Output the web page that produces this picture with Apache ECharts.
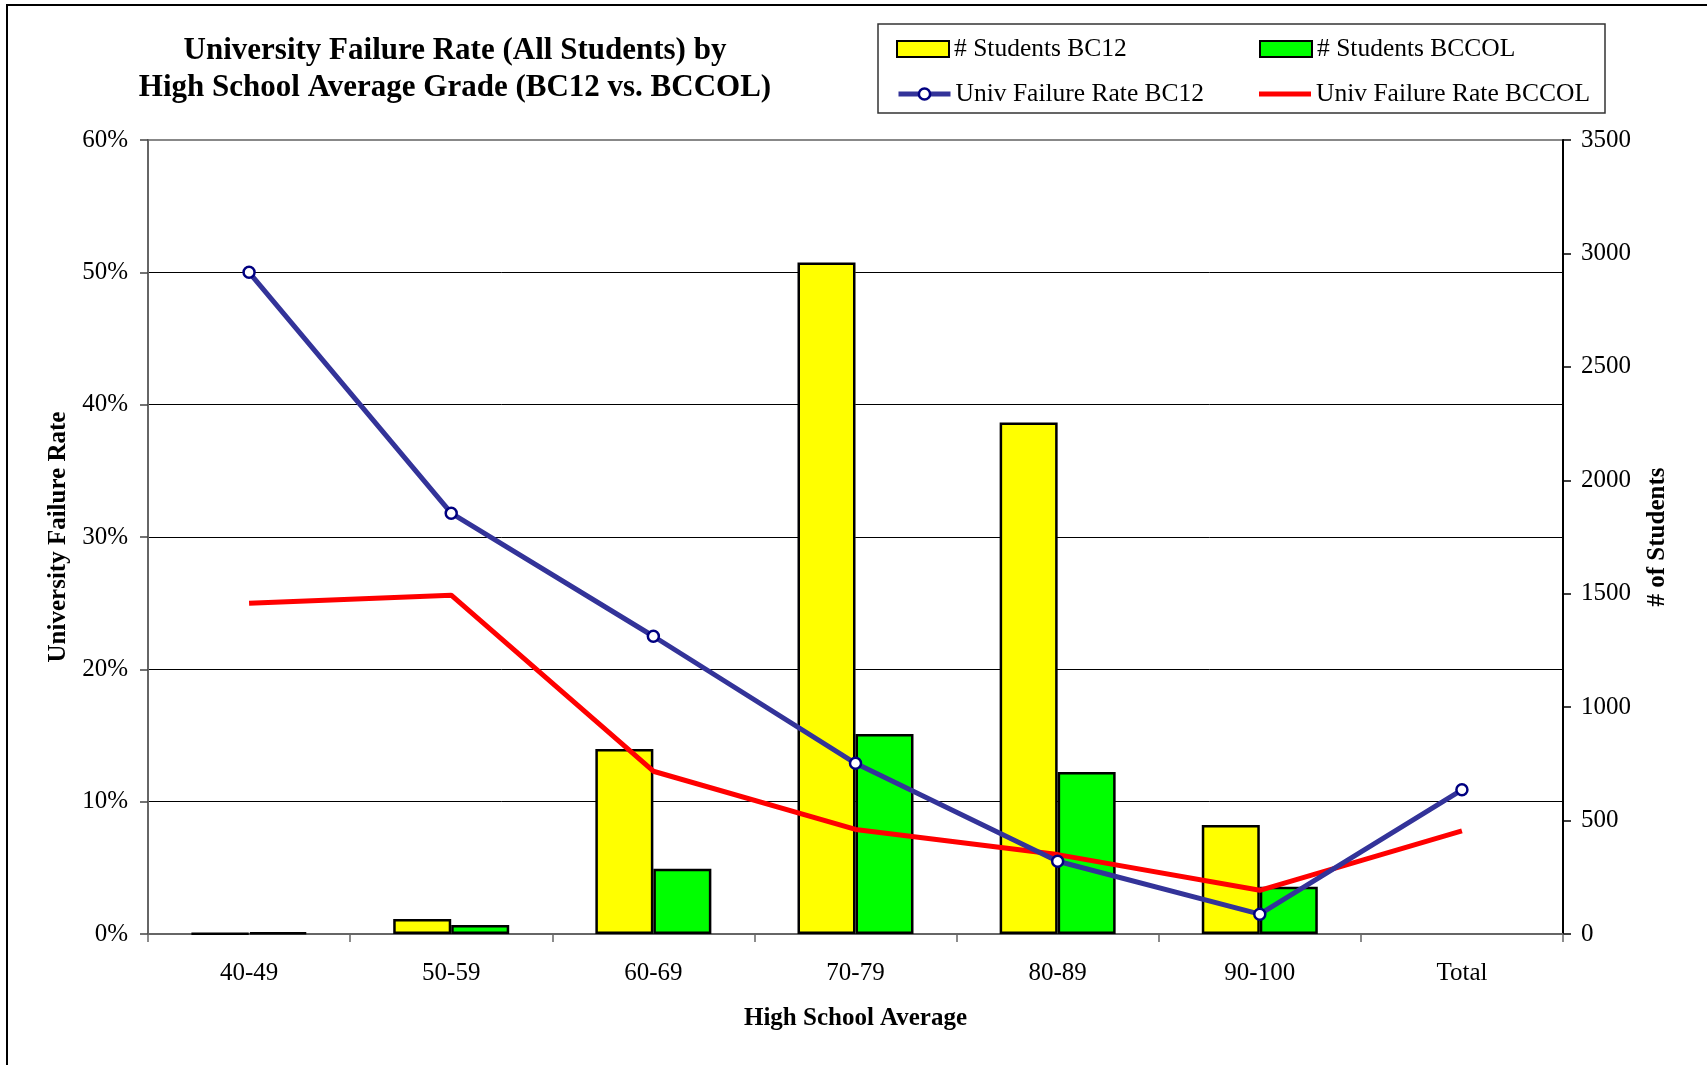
<!DOCTYPE html>
<html>
<head>
<meta charset="utf-8">
<script src="https://cdn.jsdelivr.net/npm/echarts@6/dist/echarts.min.js"></script>
<style>
html,body{margin:0;padding:0;background:#fff;}
#chart{width:1707px;height:1065px;}
</style>
</head>
<body>
<div id="chart"></div>
<script>
const categories = ['40-49', '50-59', '60-69', '70-79', '80-89', '90-100', 'Total'];
const studentsBC12 = [3, 66, 815, 2960, 2255, 480, null];
const studentsBCCOL = [7, 40, 288, 882, 714, 208, null];
const failRateBC12 = [50.0, 31.8, 22.5, 12.9, 5.5, 1.5, 10.9];
const failRateBCCOL = [25.0, 25.6, 12.3, 7.9, 6.0, 3.3, 7.8];

const FONT = "'Liberation Serif', 'Times New Roman', serif";
const chart = echarts.init(document.getElementById('chart'));

const legendBase = {
  orient: 'horizontal', padding: 0, itemWidth: 52, itemHeight: 16, itemGap: 0,
  textStyle: { fontFamily: FONT, fontSize: 25.5, color: '#000' }, selectedMode: false
};

chart.setOption({
  animation: false,
  backgroundColor: '#fff',
  title: {
    text: 'University Failure Rate (All Students) by\nHigh School Average Grade (BC12 vs. BCCOL)',
    left: 455, top: 32, textAlign: 'center', padding: 0,
    textStyle: { fontFamily: FONT, fontSize: 31, fontWeight: 'bold', color: '#000', lineHeight: 37 }
  },
  graphic: [
    { type: 'rect', shape: { x: 7, y: 5, width: 3000, height: 3000 }, style: { fill: 'none', stroke: '#000', lineWidth: 2 }, silent: true },
    { type: 'rect', shape: { x: 878, y: 24, width: 727, height: 89 }, style: { fill: '#fff', stroke: '#333', lineWidth: 1.5 }, silent: true, z: -1 }
  ],
  legend: [
    Object.assign({}, legendBase, { data: [{ name: '# Students BC12', icon: 'rect' }], left: 896, top: 36 }),
    Object.assign({}, legendBase, { data: [{ name: '# Students BCCOL', icon: 'rect' }], left: 1259, top: 36 }),
    Object.assign({}, legendBase, {
      data: ['Univ Failure Rate BC12'], left: 896, top: 81, itemHeight: 14,
      lineStyle: { color: '#333399', width: 5 },
      itemStyle: { color: '#fff', borderColor: '#000080', borderWidth: 2.5 }
    }),
    Object.assign({}, legendBase, {
      data: [{ name: 'Univ Failure Rate BCCOL', icon: 'rect' }], left: 1259, top: 81, itemHeight: 5,
      itemStyle: { color: '#FF0000', borderWidth: 0 }
    })
  ],
  grid: { left: 148, right: 144, top: 140, bottom: 131, show: true, borderColor: '#888', borderWidth: 2, backgroundColor: 'transparent' },
  xAxis: {
    type: 'category', data: categories, boundaryGap: true,
    name: 'High School Average', nameLocation: 'middle', nameGap: 72,
    nameTextStyle: { fontFamily: FONT, fontSize: 25, fontWeight: 'bold', color: '#000' },
    axisLine: { lineStyle: { color: '#666', width: 2 } },
    axisTick: { show: true, length: 8, alignWithLabel: false, lineStyle: { color: '#666', width: 1.5 } },
    axisLabel: { fontFamily: FONT, fontSize: 25, color: '#000', margin: 27 },
    splitLine: { show: false }
  },
  yAxis: [
    {
      type: 'value', min: 0, max: 60, interval: 10, position: 'left',
      name: 'University Failure Rate', nameLocation: 'middle', nameGap: 76, nameRotate: 90,
      nameTextStyle: { fontFamily: FONT, fontSize: 25, fontWeight: 'bold', color: '#000' },
      axisLine: { show: true, lineStyle: { color: '#666', width: 2 } },
      axisTick: { show: true, length: 8, inside: false, lineStyle: { color: '#444', width: 1.5 } },
      axisLabel: { fontFamily: FONT, fontSize: 25, color: '#000', margin: 20, formatter: '{value}%' },
      splitLine: { show: true, lineStyle: { color: ['#000', '#000', '#000', '#000', '#000', '#000', '#888'], width: 1 } }
    },
    {
      type: 'value', min: 0, max: 3500, interval: 500, position: 'right',
      name: '# of Students', nameLocation: 'middle', nameGap: 82, nameRotate: 90,
      nameTextStyle: { fontFamily: FONT, fontSize: 25, fontWeight: 'bold', color: '#000' },
      axisLine: { show: true, lineStyle: { color: '#000', width: 2 } },
      axisTick: { show: true, length: 8, inside: false, lineStyle: { color: '#000', width: 1.5 } },
      axisLabel: { fontFamily: FONT, fontSize: 25, color: '#000', margin: 18, formatter: function (v) { return String(v); } },
      splitLine: { show: false }
    }
  ],
  series: [
    {
      name: '# Students BC12', type: 'bar', yAxisIndex: 1, data: studentsBC12,
      barWidth: 58, barGap: '0%',
      itemStyle: { color: '#FFFF00', borderColor: '#000', borderWidth: 2.5 }, z: 2
    },
    {
      name: '# Students BCCOL', type: 'bar', yAxisIndex: 1, data: studentsBCCOL,
      barWidth: 58, barGap: '0%',
      itemStyle: { color: '#00FF00', borderColor: '#000', borderWidth: 2.5 }, z: 2
    },
    {
      name: 'Univ Failure Rate BC12', type: 'line', yAxisIndex: 0, data: failRateBC12,
      symbol: 'circle', symbolSize: 11, showAllSymbol: true,
      lineStyle: { color: '#333399', width: 5 },
      itemStyle: { color: '#fff', borderColor: '#000080', borderWidth: 2.5 }, z: 5
    },
    {
      name: 'Univ Failure Rate BCCOL', type: 'line', yAxisIndex: 0, data: failRateBCCOL,
      symbol: 'none', lineStyle: { color: '#FF0000', width: 5 },
      itemStyle: { color: '#FF0000' }, z: 4
    }
  ]
});
</script>
</body>
</html>
